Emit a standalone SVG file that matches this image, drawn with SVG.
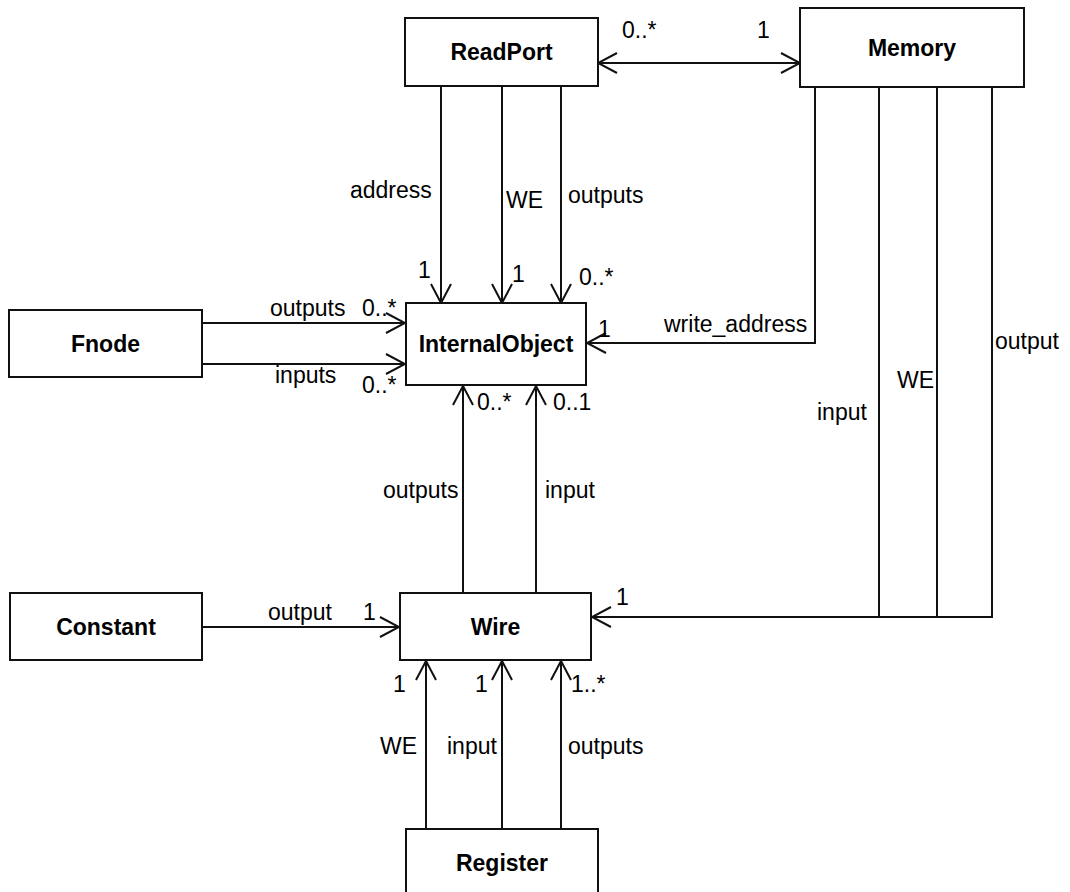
<svg xmlns="http://www.w3.org/2000/svg" width="1070" height="892" viewBox="0 0 1070 892">
<style>
.box{fill:#fff;stroke:#111;stroke-width:2}
.name{font-family:"Liberation Sans",Arial,sans-serif;font-weight:bold;font-size:23px;fill:#000;text-anchor:middle}
.lbl{font-family:"Liberation Sans",Arial,sans-serif;font-size:23px;fill:#000}
.ln{fill:none;stroke:#111;stroke-width:2}
.arr{marker-end:url(#open)}
</style>
<defs>
<marker id="open" viewBox="-21 -11 23 22" refX="0" refY="0" markerWidth="23" markerHeight="22" markerUnits="userSpaceOnUse" orient="auto-start-reverse">
<path d="M-19,-10 L0,0 L-19,10" fill="none" stroke="#111" stroke-width="2"/>
</marker>
</defs>
<rect width="1070" height="892" fill="#fff"/>
<g id="connectors">
<line class="ln" x1="598" y1="63" x2="800" y2="63" marker-start="url(#open)" marker-end="url(#open)"/>
<line class="ln arr" x1="441" y1="86" x2="441" y2="303"/>
<line class="ln arr" x1="502" y1="86" x2="502" y2="303"/>
<line class="ln arr" x1="561" y1="86" x2="561" y2="303"/>
<line class="ln arr" x1="202" y1="323" x2="405" y2="323"/>
<line class="ln arr" x1="202" y1="364" x2="405" y2="364"/>
<polyline class="ln arr" points="815,87 815,343 587,343"/>
<line class="ln arr" x1="463" y1="593" x2="463" y2="386"/>
<line class="ln arr" x1="536" y1="593" x2="536" y2="386"/>
<line class="ln" x1="879" y1="87" x2="879" y2="617"/>
<line class="ln" x1="937" y1="87" x2="937" y2="617"/>
<polyline class="ln arr" points="992,87 992,617 592,617"/>
<line class="ln arr" x1="202" y1="627" x2="399" y2="627"/>
<line class="ln arr" x1="426" y1="829" x2="426" y2="661"/>
<line class="ln arr" x1="502" y1="829" x2="502" y2="661"/>
<line class="ln arr" x1="561" y1="829" x2="561" y2="661"/>
<text class="lbl" x="622" y="38">0..*</text>
<text class="lbl" x="757" y="38">1</text>
<text class="lbl" x="350" y="198">address</text>
<text class="lbl" x="506" y="208">WE</text>
<text class="lbl" x="568" y="203">outputs</text>
<text class="lbl" x="418" y="278">1</text>
<text class="lbl" x="512" y="282">1</text>
<text class="lbl" x="579" y="285">0..*</text>
<text class="lbl" x="270" y="316">outputs</text>
<text class="lbl" x="362" y="316">0..*</text>
<text class="lbl" x="275" y="383">inputs</text>
<text class="lbl" x="362" y="393">0..*</text>
<text class="lbl" x="664" y="332">write_address</text>
<text class="lbl" x="598" y="337">1</text>
<text class="lbl" x="477" y="410">0..*</text>
<text class="lbl" x="553" y="410">0..1</text>
<text class="lbl" x="383" y="498">outputs</text>
<text class="lbl" x="545" y="498">input</text>
<text class="lbl" x="995" y="349">output</text>
<text class="lbl" x="897" y="388">WE</text>
<text class="lbl" x="817" y="420">input</text>
<text class="lbl" x="616" y="605">1</text>
<text class="lbl" x="268" y="620">output</text>
<text class="lbl" x="363" y="620">1</text>
<text class="lbl" x="393" y="692">1</text>
<text class="lbl" x="475" y="692">1</text>
<text class="lbl" x="571" y="692">1..*</text>
<text class="lbl" x="380" y="754">WE</text>
<text class="lbl" x="447" y="754">input</text>
<text class="lbl" x="568" y="754">outputs</text>
</g>
<g id="ReadPort"><rect class="box" x="405" y="18" width="193" height="68"/><text class="name" x="501.5" y="60">ReadPort</text></g>
<g id="Memory"><rect class="box" x="800" y="8" width="224" height="79"/><text class="name" x="912" y="56">Memory</text></g>
<g id="InternalObject"><rect class="box" x="406" y="303" width="180" height="82"/><text class="name" x="496" y="352">InternalObject</text></g>
<g id="Fnode"><rect class="box" x="9" y="310" width="193" height="67"/><text class="name" x="105.5" y="352">Fnode</text></g>
<g id="Constant"><rect class="box" x="10" y="593" width="192" height="67"/><text class="name" x="106" y="635">Constant</text></g>
<g id="Wire"><rect class="box" x="400" y="593" width="191" height="67"/><text class="name" x="495.5" y="635">Wire</text></g>
<g id="Register"><rect class="box" x="406" y="829" width="192" height="80"/><text class="name" x="502" y="871">Register</text></g>
</svg>
